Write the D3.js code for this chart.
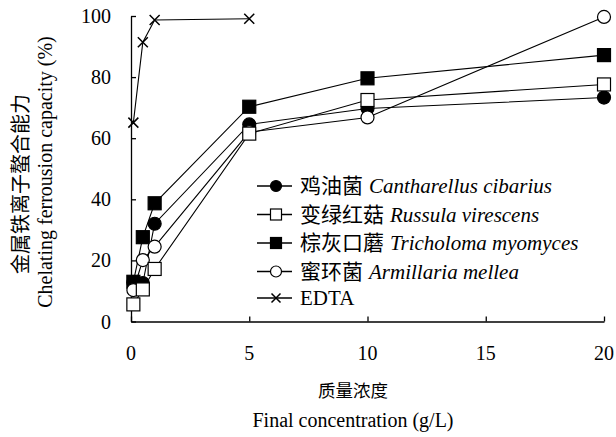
<!DOCTYPE html>
<html>
<head>
<meta charset="utf-8">
<script src="https://cdn.jsdelivr.net/npm/d3@7"></script>
<style>
  html, body { margin: 0; padding: 0; background: #fff; }
</style>
</head>
<body>
<svg id="chart" width="616" height="437"></svg>
<script>
// Final concentration (g/L) at which each sample was measured
const concentrations = [0.1, 0.5, 1, 5, 10, 20];
const edtaConcentrations = [0.1, 0.5, 1, 5];

// Chelating ferrous ion capacity (%)
const cantharellus = [12.8, 12.6, 32.0, 64.5, 69.7, 73.3];
const russula      = [5.6, 10.5, 17.2, 61.5, 72.5, 77.6];
const tricholoma   = [13.0, 27.6, 38.7, 70.3, 79.6, 87.2];
const armillaria   = [10.3, 20.1, 24.5, 62.0, 66.8, 99.7];
const edta         = [65.1, 91.4, 98.7, 99.1];

const xTicks = [0, 5, 10, 15, 20];
const yTicks = [0, 20, 40, 60, 80, 100];

const seriesNames = [
  { cn: "鸡油菌", la: "Cantharellus cibarius" },
  { cn: "变绿红菇", la: "Russula virescens" },
  { cn: "棕灰口蘑", la: "Tricholoma myomyces" },
  { cn: "蜜环菌", la: "Armillaria mellea" },
  { cn: "", la: "EDTA" }
];
const markerKinds = ["filledCircle", "openSquare", "filledSquare", "openCircle", "cross"];

const series = [
  { xs: concentrations, ys: cantharellus },
  { xs: concentrations, ys: russula },
  { xs: concentrations, ys: tricholoma },
  { xs: concentrations, ys: armillaria },
  { xs: edtaConcentrations, ys: edta }
];

const SERIF = "'Liberation Serif', 'DejaVu Serif', serif";
const CJK = "'Noto Sans CJK SC', sans-serif";

const svg = d3.select("#chart");
const x = d3.scaleLinear().domain([0, 20]).range([131, 604]);
const y = d3.scaleLinear().domain([0, 100]).range([321.5, 16]);

// Axes: left and bottom only, ticks pointing inward
const axisG = svg.append("g");
axisG.append("g").attr("transform", `translate(0,${y(0)})`)
  .call(d3.axisTop(x).tickValues(xTicks).tickSize(5).tickSizeOuter(0).tickFormat(""));
axisG.append("g").attr("transform", `translate(${x(0)},0)`)
  .call(d3.axisRight(y).tickValues(yTicks).tickSize(5).tickSizeOuter(0).tickFormat(""));
axisG.selectAll("path, line").attr("stroke", "#000").attr("stroke-width", 1.3);

function label(parent, font, size) {
  return parent.append("text").style("font-family", font).style("font-size", size + "px").attr("fill", "#000");
}

// Tick labels
const xl = svg.append("g");
xTicks.forEach(d => label(xl, SERIF, 20).attr("x", x(d)).attr("y", 360)
  .attr("text-anchor", "middle").text(d));
const yl = svg.append("g");
yTicks.forEach(d => label(yl, SERIF, 20).attr("x", 111).attr("y", y(d) + 7)
  .attr("text-anchor", "end").text(d));

// Axis titles
label(svg, CJK, 17.5).attr("x", 353).attr("y", 397).attr("text-anchor", "middle").text("质量浓度");
label(svg, SERIF, 20).attr("x", 353).attr("y", 427).attr("text-anchor", "middle").text("Final concentration (g/L)");
label(svg, CJK, 20).attr("transform", "translate(28,184) rotate(-90)")
  .attr("text-anchor", "middle").text("金属铁离子螯合能力");
label(svg, SERIF, 20).attr("transform", "translate(52,172) rotate(-90)")
  .attr("text-anchor", "middle").text("Chelating ferrousion capacity (%)");

// Marker drawing
function drawMarker(g, kind, cx, cy, s) {
  if (kind === "filledCircle" || kind === "openCircle") {
    g.append("circle").attr("cx", cx).attr("cy", cy).attr("r", s / 2)
      .attr("fill", kind === "filledCircle" ? "#000" : "#fff")
      .attr("stroke", "#000").attr("stroke-width", 1.2);
  } else if (kind === "filledSquare" || kind === "openSquare") {
    g.append("rect").attr("x", cx - s / 2).attr("y", cy - s / 2)
      .attr("width", s).attr("height", s)
      .attr("fill", kind === "filledSquare" ? "#000" : "#fff")
      .attr("stroke", "#000").attr("stroke-width", 1.2);
  } else {
    const h = s / 2 - 1;
    g.append("path")
      .attr("d", `M${cx - h},${cy - h}L${cx + h},${cy + h}M${cx - h},${cy + h}L${cx + h},${cy - h}`)
      .attr("stroke", "#000").attr("stroke-width", 1.5).attr("fill", "none");
  }
}

const line = d3.line().x(d => x(d[0])).y(d => y(d[1]));

// Lines first, then markers on top
const plot = svg.append("g");
series.forEach(s => {
  plot.append("path")
    .datum(s.xs.map((v, i) => [v, s.ys[i]]))
    .attr("d", line).attr("fill", "none")
    .attr("stroke", "#000").attr("stroke-width", 1.1);
});
[2, 0, 3, 1, 4].forEach(k => {
  const s = series[k];
  const g = plot.append("g");
  s.xs.forEach((v, i) => drawMarker(g, markerKinds[k], x(v), y(s.ys[i]), k === 4 ? 12 : 13));
});

// Legend
const legend = svg.append("g");
const rowY = [186, 214.5, 243, 271.5, 298];
seriesNames.forEach((n, i) => {
  const g = legend.append("g");
  g.append("line").attr("x1", 257).attr("x2", 292).attr("y1", rowY[i]).attr("y2", rowY[i])
    .attr("stroke", "#000").attr("stroke-width", 1.3);
  drawMarker(g, markerKinds[i], 276, rowY[i], 11);
  const t = label(g, SERIF, 21).attr("x", 300).attr("y", rowY[i] + 7);
  if (n.cn) {
    t.append("tspan").style("font-family", CJK).style("font-size", "21px").text(n.cn);
    t.append("tspan").attr("dx", 6).style("font-style", "italic").text(n.la);
  } else {
    t.append("tspan").text(n.la);
  }
});
</script>
</body>
</html>
